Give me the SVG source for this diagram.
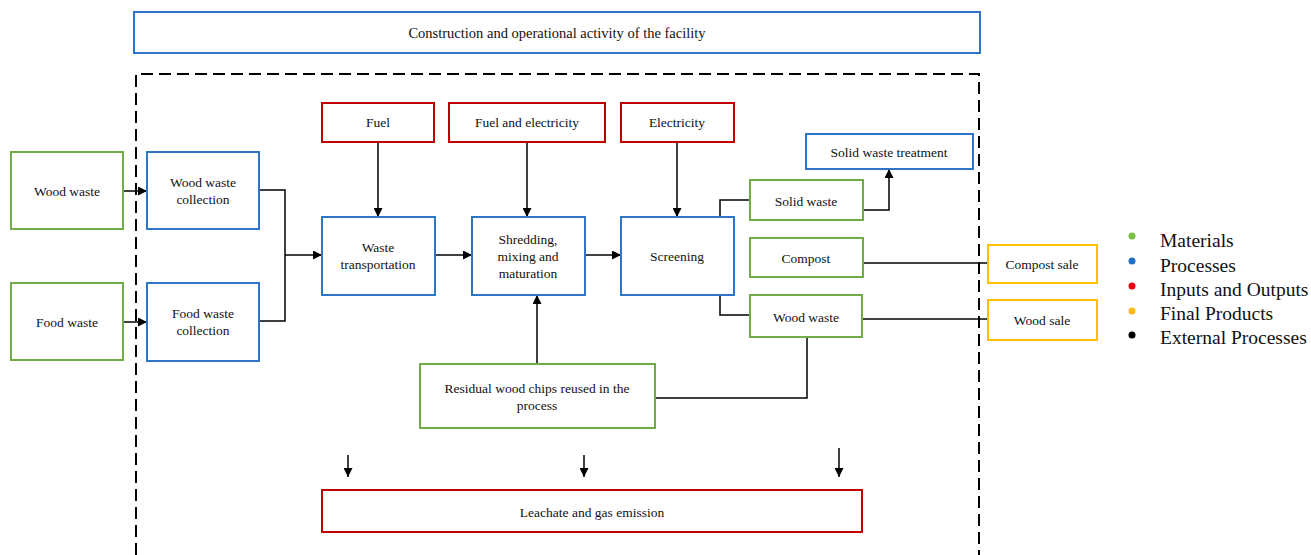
<svg xmlns="http://www.w3.org/2000/svg" width="1311" height="555" viewBox="0 0 1311 555">
<defs>
<marker id="ah" viewBox="0 0 10 10" refX="10" refY="5" markerWidth="9" markerHeight="9" markerUnits="userSpaceOnUse" orient="auto"><path d="M0,0 L10,5 L0,10 z" fill="#000"/></marker>
<style>
rect{fill:#fff;stroke-width:2}
.g{stroke:#70ad47}
.b{stroke:#2e75c6}
.r{stroke:#c00000}
.o{stroke:#ffc000}
text{font-family:"Liberation Serif","Times New Roman",serif;font-size:13.5px;fill:#111;text-anchor:middle}
.lg{font-size:19.5px;text-anchor:start}
.c path{fill:none;stroke:#000;stroke-width:1.5}
.c path.a{marker-end:url(#ah)}
</style>
</defs>
<rect width="1311" height="555" style="fill:#fff;stroke:none"/>
<g id="facility"><rect class="b" x="134" y="12" width="846" height="41"/><text x="557" y="38" style="font-size:14.5px">Construction and operational activity of the facility</text></g>
<g id="boundary"><path d="M136,555 V74 H979 V555" fill="none" stroke="#000" stroke-width="2" stroke-dasharray="12,6"/></g>
<g class="c" id="connectors">
<path class="a" d="M123,191 H147"/>
<path class="a" d="M123,322 H147"/>
<path d="M259,190 H285 V321 H259"/>
<path class="a" d="M285,255 H322"/>
<path class="a" d="M378,142 V217"/>
<path class="a" d="M527,142 V217"/>
<path class="a" d="M677,142 V217"/>
<path class="a" d="M435,255 H472"/>
<path class="a" d="M585,255 H621"/>
<path d="M720,217 V200 H750"/>
<path d="M720,295 V315 H750"/>
<path class="a" d="M863,210 H889 V169"/>
<path d="M863,263 H988"/>
<path d="M863,319 H988"/>
<path d="M807,337 V398 H655"/>
<path class="a" d="M537,364 V295"/>
<path class="a" d="M348,455 V477"/>
<path class="a" d="M584,455 V477"/>
<path class="a" d="M839,448 V477"/>
</g>
<g id="wood-waste-in"><rect class="g" x="11" y="152" width="112" height="77"/><text x="67" y="196">Wood waste</text></g>
<g id="food-waste-in"><rect class="g" x="11" y="283" width="112" height="77"/><text x="67" y="327">Food waste</text></g>
<g id="wood-collection"><rect class="b" x="147" y="152" width="112" height="77"/><text x="203" y="187">Wood waste</text><text x="203" y="204">collection</text></g>
<g id="food-collection"><rect class="b" x="147" y="283" width="112" height="78"/><text x="203" y="318">Food waste</text><text x="203" y="335">collection</text></g>
<g id="fuel"><rect class="r" x="322" y="103" width="112" height="39"/><text x="378" y="127">Fuel</text></g>
<g id="fuel-elec"><rect class="r" x="449" y="103" width="156" height="39"/><text x="527" y="127">Fuel and electricity</text></g>
<g id="electricity"><rect class="r" x="621" y="103" width="113" height="39"/><text x="677" y="127">Electricity</text></g>
<g id="transport"><rect class="b" x="322" y="217" width="113" height="78"/><text x="378" y="252">Waste</text><text x="378" y="269">transportation</text></g>
<g id="shredding"><rect class="b" x="472" y="217" width="113" height="78"/><text x="528" y="244">Shredding,</text><text x="528" y="261">mixing and</text><text x="528" y="278">maturation</text></g>
<g id="screening"><rect class="b" x="621" y="217" width="113" height="78"/><text x="677" y="261">Screening</text></g>
<g id="solid-treatment"><rect class="b" x="806" y="134" width="167" height="35"/><text x="889" y="157">Solid waste treatment</text></g>
<g id="solid-waste"><rect class="g" x="750" y="180" width="113" height="40"/><text x="806" y="206">Solid waste</text></g>
<g id="compost"><rect class="g" x="750" y="238" width="113" height="39"/><text x="806" y="263">Compost</text></g>
<g id="wood-waste-out"><rect class="g" x="750" y="295" width="112" height="42"/><text x="806" y="322">Wood waste</text></g>
<g id="compost-sale"><rect class="o" x="988" y="245" width="109" height="38"/><text x="1042" y="269">Compost sale</text></g>
<g id="wood-sale"><rect class="o" x="988" y="300" width="109" height="40"/><text x="1042" y="325">Wood sale</text></g>
<g id="residual"><rect class="g" x="420" y="364" width="235" height="64"/><text x="537" y="393">Residual wood chips reused in the</text><text x="537" y="410">process</text></g>
<g id="leachate"><rect class="r" x="322" y="490" width="540" height="42"/><text x="592" y="517">Leachate and gas emission</text></g>
<g id="legend">
<circle cx="1132" cy="236" r="3.5" fill="#7ac143"/><text class="lg" x="1160" y="247">Materials</text>
<circle cx="1132" cy="261" r="3.5" fill="#1f6fc5"/><text class="lg" x="1160" y="272">Processes</text>
<circle cx="1132" cy="286" r="3.5" fill="#ee0010"/><text class="lg" x="1160" y="296">Inputs and Outputs</text>
<circle cx="1132" cy="311" r="3.5" fill="#ffb81c"/><text class="lg" x="1160" y="320">Final Products</text>
<circle cx="1132" cy="335" r="3.5" fill="#000"/><text class="lg" x="1160" y="344">External Processes</text>
</g>
</svg>
